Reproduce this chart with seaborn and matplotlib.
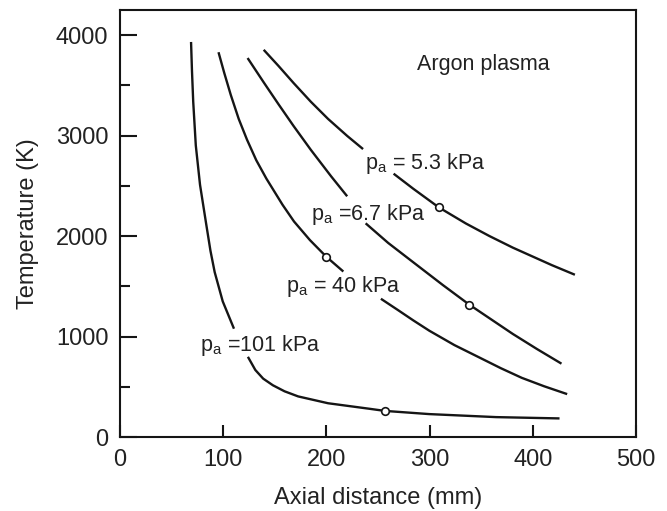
import numpy as np
import pandas as pd
import matplotlib
matplotlib.use("Agg")
import matplotlib.pyplot as plt
from matplotlib.ticker import MultipleLocator
import seaborn as sns

# ---------------- data ----------------
# p_a = 101 kPa (two segments, broken by the label)
p101_seg1_x = [68.8, 69.7, 70.9, 73.4, 77.5, 83.5, 87.6, 91.7, 99.5, 110.4]
p101_seg1_T = [3932, 3643, 3337, 2902, 2510, 2118, 1854, 1641, 1350, 1078]
p101_seg2_x = [123.9, 131.1, 138.7, 148.1, 159.4, 172.6, 201.6, 241.7, 256.5, 299.7, 364.4, 425.9]
p101_seg2_T = [798, 667, 581, 515, 455, 404, 336, 281, 260, 228, 198, 185]

# p_a = 40 kPa
p40_seg1_x = [95.4, 101.0, 107.3, 115.0, 123.0, 132.0, 141.8, 157.5, 168.6, 184.0, 200.0, 216.4]
p40_seg1_T = [3830, 3623, 3405, 3166, 2960, 2755, 2572, 2311, 2145, 1960, 1793, 1647]
p40_seg2_x = [252.8, 269.1, 284.0, 299.7, 324.0, 348.3, 369.0, 389.3, 411.0, 433.3]
p40_seg2_T = [1376, 1265, 1162, 1058, 915, 791, 685, 589, 505, 427]

# p_a = 6.7 kPa
p67_seg1_x = [123.6, 139.6, 153.5, 168.2, 184.9, 204.6, 220.1]
p67_seg1_T = [3772, 3524, 3313, 3095, 2858, 2594, 2396]
p67_seg2_x = [238.0, 259.8, 284.3, 312.9, 338.5, 380.6, 404.0, 427.8]
p67_seg2_T = [2127, 1932, 1738, 1512, 1317, 1026, 876, 730]

# p_a = 5.3 kPa
p53_seg1_x = [139.2, 153.5, 168.2, 184.9, 201.6, 220.1, 235.5]
p53_seg1_T = [3854, 3694, 3523, 3337, 3166, 2997, 2866]
p53_seg2_x = [265.1, 284.3, 309.0, 335.2, 358.0, 380.6, 418.6, 440.8]
p53_seg2_T = [2621, 2470, 2285, 2125, 2000, 1885, 1710, 1615]

# open-circle markers on each curve
marker_x = [256.5, 200.0, 338.5, 309.0]
marker_T = [260, 1793, 1317, 2285]

# curve labels: text, left x, baseline y
label_texts = [r"p$_\mathregular{a}$ =101 kPa", r"p$_\mathregular{a}$ = 40 kPa",
               r"p$_\mathregular{a}$ =6.7 kPa", r"p$_\mathregular{a}$ = 5.3 kPa"]
label_x = [77.4, 160.7, 184.9, 237.0]
label_y = [859, 1440, 2164, 2670]

title_text = "Argon plasma"
title_x, title_y = 288.0, 3650

x_label = "Axial distance (mm)"
y_label = "Temperature (K)"
x_ticks = [0, 100, 200, 300, 400, 500]
y_ticks = [0, 1000, 2000, 3000, 4000]

# ---------------- build long-form table ----------------
segments = [
    ("101a", p101_seg1_x, p101_seg1_T), ("101b", p101_seg2_x, p101_seg2_T),
    ("40a", p40_seg1_x, p40_seg1_T), ("40b", p40_seg2_x, p40_seg2_T),
    ("6.7a", p67_seg1_x, p67_seg1_T), ("6.7b", p67_seg2_x, p67_seg2_T),
    ("5.3a", p53_seg1_x, p53_seg1_T), ("5.3b", p53_seg2_x, p53_seg2_T),
]
rows = []
for name, xs, ts in segments:
    for xv, tv in zip(xs, ts):
        rows.append({"x": xv, "T": tv, "segment": name})
df = pd.DataFrame(rows)
dm = pd.DataFrame({"x": marker_x, "T": marker_T})

# ---------------- style ----------------
sns.set_theme(style="ticks")
plt.rcParams["font.family"] = ["Liberation Sans", "DejaVu Sans"]
plt.rcParams["mathtext.fontset"] = "custom"
plt.rcParams["mathtext.rm"] = "Liberation Sans"
plt.rcParams["mathtext.it"] = "Liberation Sans"
plt.rcParams["mathtext.default"] = "regular"

text_color = "#222222"
line_color = "#151515"

fig = plt.figure(figsize=(6.67, 5.11), dpi=100)
ax = fig.add_axes([0.18, 0.1448, 0.9535 - 0.18, 0.9804 - 0.1448])

line_kws = dict(solid_joinstyle="round", solid_capstyle="butt")
sns.lineplot(data=df, x="x", y="T", units="segment", estimator=None, sort=False,
             color=line_color, linewidth=1.7, ax=ax, legend=False, **line_kws)
sns.scatterplot(data=dm, x="x", y="T", ax=ax, s=30, facecolor="white",
                edgecolor=line_color, linewidth=1.2, zorder=5, legend=False)

for t, lx, ly in zip(label_texts, label_x, label_y):
    ax.text(lx, ly, t, ha="left", va="baseline", fontsize=15.5, color=text_color)
ax.text(title_x, title_y, title_text, ha="left", va="baseline", fontsize=15.5,
        color=text_color)

ax.set_xlim(0, 500)
ax.set_ylim(0, 4250)
ax.set_xticks(x_ticks)
ax.set_yticks(y_ticks)
ax.yaxis.set_minor_locator(MultipleLocator(500))
ax.tick_params(axis="both", which="both", direction="in", colors=line_color,
               labelcolor=text_color, labelsize=17, width=1.5, pad=8.5)
ax.tick_params(axis="x", which="major", length=8.8)
ax.tick_params(axis="y", which="major", length=12)
ax.tick_params(axis="y", which="minor", length=7.5)
for sp in ax.spines.values():
    sp.set_visible(True)
    sp.set_linewidth(1.5)
    sp.set_color(line_color)

ax.set_xlabel(x_label, fontsize=17, color=text_color, labelpad=12)
ax.set_ylabel(y_label, fontsize=17, color=text_color, labelpad=12)

fig.savefig("out.png", dpi=100)
